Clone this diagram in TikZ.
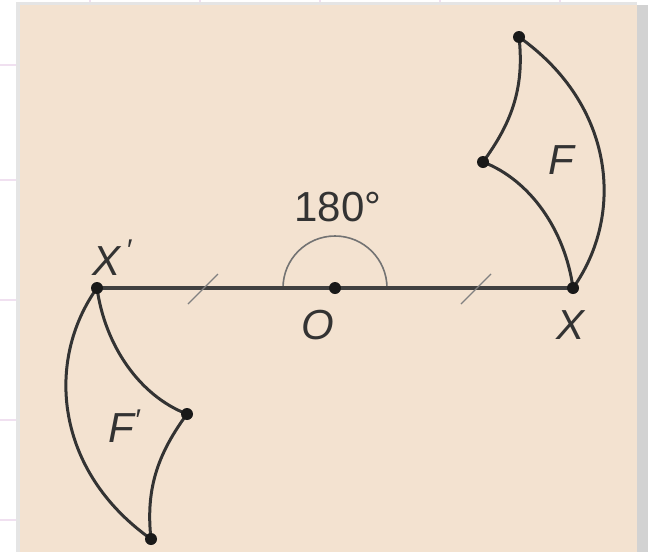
\documentclass[tikz,border=0pt]{standalone}
\usepackage{fontspec}
\setmainfont{Liberation Sans}
\definecolor{panel}{RGB}{243,226,208}
\begin{document}
\begin{tikzpicture}[x=1pt,y=-1pt,
  fig/.style={draw=black!80, line width=3pt, line join=round},
  axis/.style={draw=black!75, line width=3.6pt},
  arcl/.style={draw=black!55, line width=1.6pt},
  tick/.style={draw=black!50, line width=1.3pt},
  dot/.style={circle, fill=black!90, inner sep=0pt, minimum size=12pt},
  lbl/.style={font=\fontsize{42}{42}\selectfont, text=black!80, inner sep=0pt}]
\useasboundingbox (0,0) rectangle (648,552);
% background
\fill[white] (0,0) rectangle (648,552);
\foreach \yy in {65,180,300,420,520} \draw[violet!12, line width=1.5pt] (0,\yy) -- (20,\yy);
\foreach \xx in {90,200,320,440,560} \draw[violet!12, line width=1.5pt] (\xx,0) -- (\xx,5);
\fill[gray!60] (632,5) rectangle (648,552);
\fill[gray!35] (637,5) rectangle (648,552);
\fill[black!10] (16,2) rectangle (637,552);
\fill[panel] (20,5) rectangle (637,552);
% points
\coordinate (Xp) at (97,288);
\coordinate (O) at (335,288);
\coordinate (X) at (573,288);
\coordinate (T) at (519,37);
\coordinate (I) at (483,162);
\coordinate (Tp) at (151,539);
\coordinate (Ip) at (187,414);
\coordinate (a1) at (188,304);
\coordinate (a2) at (218,274);
\coordinate (b1) at (461,304);
\coordinate (b2) at (491,274);
% angle arc
\draw[arcl] (283,288) arc[start angle=180, end angle=360, radius=52];
% segment
\draw[axis] (Xp) -- (X);
\draw[tick] (a1) -- (a2);
\draw[tick] (b1) -- (b2);
% figure F
\draw[fig] (X) .. controls (625,215) and (615,105) .. (T)
  .. controls (525,90) and (510,125) .. (I)
  .. controls (530,180) and (565,230) .. (X);
% figure F'
\draw[fig] (Xp) .. controls (45,361) and (55,471) .. (Tp)
  .. controls (145,486) and (160,451) .. (Ip)
  .. controls (140,396) and (105,346) .. (Xp);
% dots
\foreach \p in {Xp,O,X,T,I,Tp,Ip} \node[dot] (d\p) at (\p) {};
% labels
\node[lbl] (l180) at (338,207) {180\textdegree};
\node[lbl] (lXp) at (112,258) {\itshape X\raisebox{0.35em}{\fontsize{30}{30}\selectfont\,\char"2032}};
\node[lbl] (lO) at (318,325) {\itshape O};
\node[lbl] (lX) at (571,325) {\itshape X};
\node[lbl] (lF) at (561,160) {\itshape F};
\node[lbl] (lFp) at (124,426) {\itshape F\raisebox{0.3em}{\fontsize{30}{30}\selectfont\char"2032}};
\end{tikzpicture}
\end{document}
